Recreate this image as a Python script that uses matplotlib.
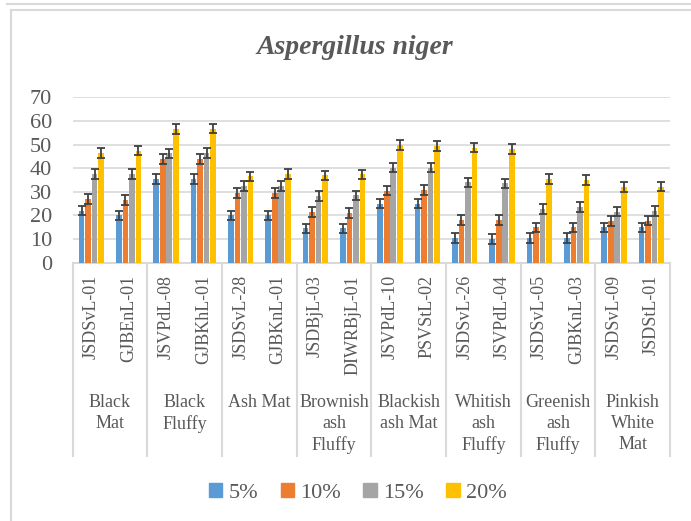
import numpy as np
import matplotlib.pyplot as plt
from matplotlib.lines import Line2D
from matplotlib.patches import Patch
import matplotlib.transforms as mtransforms

plt.rcParams['font.family'] = ['Liberation Serif', 'DejaVu Serif']

isolates = ["JSDSvL-01", "GJBEnL-01", "JSVPdL-08", "GJBKhL-01", "JSDSvL-28", "GJBKnL-01",
            "JSDBjL-03", "DIWRBjL-01", "JSVPdL-10", "PSVStL-02", "JSDSvL-26", "JSVPdL-04",
            "JSDSvL-05", "GJBKnL-03", "JSDSvL-09", "JSDStL-01"]
groups = ["Black\nMat", "Black\nFluffy", "Ash Mat", "Brownish\nash\nFluffy", "Blackish\nash Mat",
          "Whitish\nash\nFluffy", "Greenish\nash\nFluffy", "Pinkish\nWhite\nMat"]
series = ["5%", "10%", "15%", "20%"]

v5 = [22, 20, 35.5, 35.5, 20, 20, 14.5, 14.5, 25, 25, 10.5, 10, 10.5, 10.5, 15, 15]
v10 = [27, 26.5, 44, 44, 29.5, 29.5, 21.5, 21, 30.5, 30.7, 18, 18, 15, 15, 17.6, 17.8]
v15 = [37.5, 37.5, 46.3, 46.5, 32.5, 32.5, 28.3, 28.5, 40.2, 40.2, 34, 33.6, 22.7, 23.5, 21.6, 21.9]
v20 = [46.5, 47.5, 56.7, 56.8, 36.5, 37.5, 37, 37.4, 49.8, 49.5, 48.7, 48.1, 35.5, 35, 32, 32.2]
err = [2, 2, 2, 2]

colors = ["#5B9BD5", "#ED7D31", "#A5A5A5", "#FFC000"]
text_c = "#595959"
line_c = "#D9D9D9"

fig = plt.figure(figsize=(6.91, 5.21), dpi=100)
ax = fig.add_axes([0.1052, 0.4958, 0.8644, 0.3173])

x = np.arange(len(isolates))
step = 0.175
for i, vals in enumerate([v5, v10, v15, v20]):
    xs = x + (i - 1.5) * step
    ax.bar(xs, vals, width=0.15, color=colors[i], zorder=3)
    ax.errorbar(xs, vals, yerr=err[i], fmt='none', ecolor='#404040',
                elinewidth=1.3, capsize=3, capthick=1.3, zorder=4)

ax.set_xlim(-0.5, len(isolates) - 0.5)
ax.set_ylim(0, 70)
ax.set_yticks(range(0, 71, 10))
ax.yaxis.grid(True, color=line_c, lw=1.2, zorder=0)
ax.tick_params(axis='y', length=0, pad=15, labelsize=16, labelcolor=text_c)
ax.set_xticks([])
for s in ['top', 'right', 'left']:
    ax.spines[s].set_visible(False)
ax.spines['bottom'].set_color(line_c)
ax.spines['bottom'].set_linewidth(1.5)

trans = mtransforms.blended_transform_factory(ax.transData, fig.transFigure)
for i, name in enumerate(isolates):
    ax.text(i, 1 - 275 / 521, name, transform=trans, rotation=90, ha='center', va='top',
            fontsize=13, color=text_c)
for g, label in enumerate(groups):
    ax.text(2 * g + 0.5, 1 - 394 / 521, label, transform=trans, ha='center', va='top',
            fontsize=13, color=text_c, linespacing=1.3, multialignment='center')
for b in np.arange(-0.5, len(isolates), 2):
    ax.add_line(Line2D([b, b], [1 - 263 / 521, 1 - 456 / 521], transform=trans,
                       color=line_c, lw=1.5, clip_on=False))

fig.text(355 / 691, 1 - 48 / 521, "Aspergillus niger", ha='center', va='center',
         fontsize=20, fontweight='bold', fontstyle='italic', color=text_c)

# chart border
fig.add_artist(Line2D([11 / 691, 11 / 691], [1 - 10 / 521, 0], transform=fig.transFigure,
                      color=line_c, lw=1.5))
fig.add_artist(Line2D([11 / 691, 1], [1 - 10 / 521, 1 - 10 / 521], transform=fig.transFigure,
                      color=line_c, lw=1.5))
fig.add_artist(Line2D([7 / 691, 1], [1 - 4 / 521, 1 - 4 / 521], transform=fig.transFigure,
                      color=line_c, lw=1.5))

handles = [Patch(color=c) for c in colors]
fig.legend(handles, series, loc='center', bbox_to_anchor=(0.518, 1 - 493 / 521), ncol=4,
           frameon=False, fontsize=16, labelcolor=text_c, handlelength=0.6, handleheight=0.6,
           handletextpad=0.3, columnspacing=1.0)

fig.savefig("out.png", dpi=100)
